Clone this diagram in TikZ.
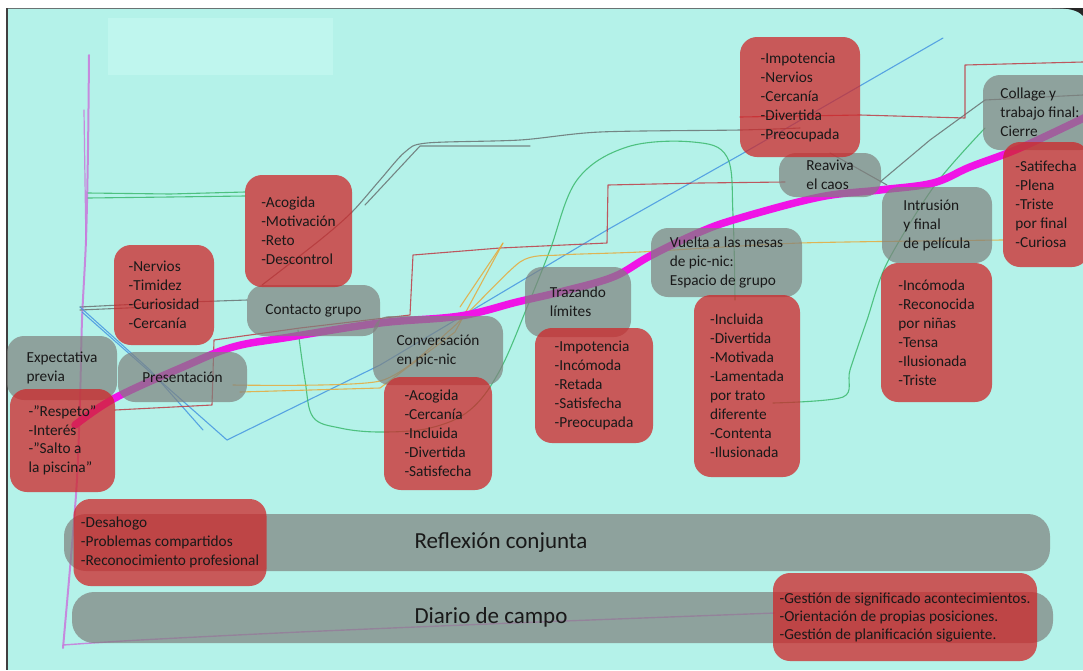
\documentclass[tikz,border=0pt]{standalone}
\usepackage{fontspec}
\setmainfont{Carlito}
\definecolor{paper}{RGB}{180,242,233}
\definecolor{paperlight}{RGB}{191,246,238}
\definecolor{boxred}{RGB}{207,39,42}
\definecolor{boxgray}{RGB}{127,129,126}
\definecolor{ink}{RGB}{25,25,25}
\definecolor{trend}{RGB}{240,20,230}
\definecolor{pviolet}{RGB}{200,120,220}
\definecolor{pgreen}{RGB}{60,185,110}
\definecolor{pgray}{RGB}{105,115,115}
\definecolor{pblue}{RGB}{70,150,225}
\definecolor{pred}{RGB}{190,60,70}
\definecolor{porange}{RGB}{230,170,60}
\begin{document}
\begin{tikzpicture}[x=1pt,y=-1pt,
  every node/.style={text=ink, font=\fontsize{15.3}{19}\selectfont},
  card/.style={rounded corners=17pt, align=left, inner sep=0pt, text opacity=1},
  feel/.style={card, fill=boxred, fill opacity=0.75},
  stage/.style={card, fill=boxgray, fill opacity=0.7},
  band/.style={fill=boxgray, fill opacity=0.7, rounded corners=22pt, inner sep=0pt},
  wh/.style 2 args={minimum width=#1pt, minimum height=#2pt},
  pencil/.style={line width=1.1pt, line cap=round, line join=round, opacity=0.85},
]
\useasboundingbox (0,0) rectangle (1083,670);

% sheet of paper
\fill[white] (0,0) rectangle (1083,670);
\fill[paper] (7,8) rectangle (1083,670);
\fill[paperlight] (108,18) rectangle (333,75);
\draw[pgray, line width=0.8pt] (7,8) -- (1083,8);
\draw[black!75, line width=1.4pt] (7,8) -- (7,670);
\fill[black!85] (1052,8) .. controls (1068,8) and (1078,10) .. (1083,16) -- (1083,8) -- cycle;

% hand-drawn axes
\draw[pencil, pviolet, line width=2pt] plot[smooth] coordinates {(89,55) (88,150) (86,240) (82,320) (80,400) (76,495) (63,648)};
\draw[pencil, pviolet, line width=1.2pt] plot[smooth] coordinates {(84,110) (85,180) (86,245)};
\draw[pencil, pviolet, line width=1.4pt] plot[smooth] coordinates {(63,645) (140,640) (300,632) (513,623) (775,613)};

% hand-drawn trajectories
\draw[pencil, pgreen] (88,193) -- (170,194) -- (245,192);
\draw[pencil, pgreen] (88,198) -- (170,197) -- (245,196);
\draw[pencil, pgray] (80,307) -- (160,303) -- (247,300);
\draw[pencil, pgray] (80,310) -- (150,307);
\draw[pencil, pblue] (80,307) -- (150,370) -- (203,430);
\draw[pencil, pblue] (82,312) -- (227,440) -- (380,365) -- (607,230) -- (740,155) -- (943,38);
\draw[pencil, pgray] plot[smooth, tension=0.5] coordinates {(262,285) (320,240) (352,212) (380,180) (405,152) (427,143) (520,140) (600,132) (740,130) (800,128)};
\draw[pencil, pgray] (365,205) -- (420,146) -- (530,146);
\draw[pencil, pgray] (830,153) -- (887,185);
\draw[pencil, pgray] (880,182) -- (930,140) -- (985,100) -- (1083,95);
\draw[pencil, pred] (115,410) -- (212,405) -- (214,340) -- (300,328) -- (410,315) -- (413,255) -- (500,248) -- (607,243) -- (608,185) -- (700,183) -- (785,182);
\draw[pencil, pred] (740,117) -- (860,115) -- (965,118) -- (965,65) -- (1083,62);
\draw[pencil, pgreen] plot[smooth, tension=0.6] coordinates {(298,330) (305,380) (313,417) (340,428) (380,432) (430,428) (470,410) (500,370) (530,300) (550,250) (577,180) (627,147) (693,142) (727,157) (733,215) (735,300)};
\draw[pencil, pgreen] plot[smooth, tension=0.5] coordinates {(773,403) (843,397) (850,370) (867,320) (887,263) (935,185) (985,128)};
\draw[pencil, porange] plot[smooth, tension=0.4] coordinates {(233,385) (380,381) (450,330) (520,262) (560,255) (640,252) (800,243) (1003,240)};
\draw[pencil, porange] (240,392) -- (380,388) -- (455,332) -- (503,243);
\draw[pencil, porange] (460,307) -- (503,243);

% overall course
\draw[trend, line width=7.5pt, line cap=round] plot[smooth, tension=0.6] coordinates {(75,425) (115,398) (183,367) (233,347) (290,337) (380,323) (460,316) (517,302) (560,292) (613,277) (650,256) (700,232) (740,218) (820,197) (880,190) (933,183) (970,167) (1020,148) (1090,115)};

% stages
\node[stage, wh={110}{64}] (expect) at (62,368) {Expectativa\\previa};
\node[stage, wh={129}{50}] (present) at (182.5,377) {Presentación};
\node[stage, wh={133}{51}] (contact) at (313.5,310.5) {Contacto grupo};
\node[stage, wh={130}{69}] (picnic) at (438,350.5) {Conversación\\en pic-nic};
\node[stage, wh={106}{70}] (limits) at (578,302) {Trazando\\límites};
\node[stage, wh={151}{69}] (tables) at (726.5,262.5) {Vuelta a las mesas\\de pic-nic:\\Espacio de grupo};
\node[stage, wh={102}{44}] (chaos) at (830,175) {Reaviva\\el caos};
\node[stage, wh={110}{76}] (intrusion) at (937,225) {Intrusión\\y final\\de película};
\node[stage, wh={114}{75}] (closing) at (1040,112.5) {Collage y\\trabajo final:\\Cierre};

% feelings at each stage
\node[feel, wh={105}{103}, font=\fontsize{15.3}{18.5}\selectfont] (fexpect) at (62.5,440.5) {-”Respeto”\\-Interés\\-”Salto a\\la piscina”};
\node[feel, wh={100}{100}] (fpresent) at (164,295) {-Nervios\\-Timidez\\-Curiosidad\\-Cercanía};
\node[feel, wh={107}{112}] (fcontact) at (298.5,231) {-Acogida\\-Motivación\\-Reto\\-Descontrol};
\node[feel, wh={108}{113}] (fpicnic) at (438,433.5) {-Acogida\\-Cercanía\\-Incluida\\-Divertida\\-Satisfecha};
\node[feel, wh={118}{115}] (flimits) at (594,385.5) {-Impotencia\\-Incómoda\\-Retada\\-Satisfecha\\-Preocupada};
\node[feel, wh={106}{182}] (ftables) at (747,386) {-Incluida\\-Divertida\\-Motivada\\-Lamentada\\por trato\\diferente\\-Contenta\\-Ilusionada};
\node[feel, wh={120}{120}] (fchaos) at (800,97) {-Impotencia\\-Nervios\\-Cercanía\\-Divertida\\-Preocupada};
\node[feel, wh={111}{139}] (fintrusion) at (936.5,332.5) {-Incómoda\\-Reconocida\\por niñas\\-Tensa\\-Ilusionada\\-Triste};
\node[feel, wh={86}{125}] (fclosing) at (1046,204.5) {-Satifecha\\-Plena\\-Triste\\por final\\-Curiosa};

% reflection bands
\node[band, wh={986}{57}] (reflect) at (557,542.5) {};
\node[font=\fontsize{23}{27}\selectfont] (reflecttext) at (501,543) {Reflexión conjunta};
\node[feel, wh={193}{87}] (freflect) at (170,542.5) {-Desahogo\\-Problemas compartidos\\-Reconocimiento profesional};
\node[band, wh={981}{51}] (diary) at (562.5,617.5) {};
\node[font=\fontsize{23}{27}\selectfont] (diarytext) at (491,617) {Diario de campo};
\node[feel, wh={264}{88}, font=\fontsize{15.3}{18}\selectfont] (fdiary) at (905,617) {-Gestión de significado acontecimientos.\\-Orientación de propias posiciones.\\-Gestión de planificación siguiente.};
\end{tikzpicture}
\end{document}
